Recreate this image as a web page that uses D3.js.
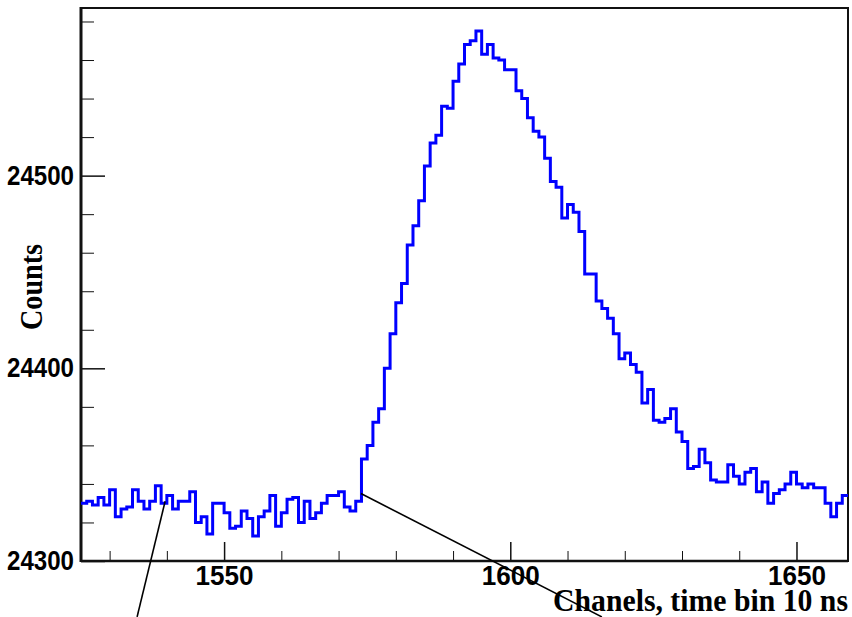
<!DOCTYPE html>
<html>
<head>
    <meta charset="UTF-8">
    <title>Counts</title>
    <style>
        body { margin: 0; background: #fff; }
        .axis text {
            font-family: 'Liberation Sans', Arial, sans-serif;
            font-weight: bold;
            fill: #000;
        }
        .axis line { stroke: #111; }
        .title {
            font-family: 'Liberation Serif', 'Times New Roman', serif;
            font-weight: bold;
            fill: #000;
        }
    </style>
</head>
<body>
    <div id="app"></div>

    <script src="https://d3js.org/d3.v7.min.js"></script>
    <script>
        // channel of the first bin, one bin per channel
        let firstChannel = 1525
        let lastChannel = 1659

        let counts = [
            24330, 24331, 24329, 24333, 24329, 24337, 24323, 24327, 24328, 24337,
            24331, 24327, 24331, 24339, 24330, 24334, 24327, 24331, 24331, 24336,
            24320, 24323, 24314, 24330, 24330, 24325, 24317, 24318, 24326, 24322,
            24313, 24323, 24326, 24334, 24318, 24325, 24332, 24333, 24320, 24331,
            24322, 24325, 24330, 24334, 24334, 24336, 24328, 24326, 24331, 24353,
            24360, 24372, 24379, 24400, 24418, 24434, 24444, 24464, 24474, 24487,
            24505, 24517, 24521, 24536, 24535, 24549, 24558, 24568, 24570, 24575,
            24563, 24568, 24561, 24560, 24555, 24555, 24544, 24540, 24530, 24523,
            24520, 24509, 24497, 24494, 24478, 24485, 24481, 24471, 24449, 24449,
            24435, 24431, 24426, 24418, 24405, 24408, 24402, 24398, 24382, 24389,
            24373, 24372, 24374, 24379, 24367, 24362, 24348, 24349, 24358, 24351,
            24342, 24341, 24341, 24350, 24344, 24340, 24346, 24348, 24336, 24341,
            24330, 24335, 24337, 24340, 24346, 24340, 24338, 24340, 24338, 24338,
            24330, 24323, 24330, 24334
        ]

        let xTicks = [1550, 1600, 1650]
        let xMinorTicks = [1530, 1540, 1560, 1570, 1580, 1590, 1610, 1620, 1630, 1640]
        let yTicks = [24300, 24400, 24500]
        let yMinorTicks = [24320, 24340, 24360, 24380, 24420, 24440, 24460, 24480, 24520, 24540, 24560, 24580]

        let xTitle = 'Chanels, time bin 10 ns'
        let yTitle = 'Counts'

        // the two pointer lines, [channel, counts] at each end
        let pointers = [
            [[1539.7, 24331], [1534.8, 24271]],
            [[1573.9, 24335], [1616.0, 24271]]
        ]

        let W = 852
        let H = 617
        let m = { left: 81, right: 848, top: 8, bottom: 561 }

        let svg = d3.select('#app').append('svg')
            .attr('width', W)
            .attr('height', H)

        let x = d3.scaleLinear().domain([firstChannel, lastChannel]).range([m.left, m.right])
        let y = d3.scaleLinear().domain([24300, 24587]).range([m.bottom, m.top])

        // minor ticks
        svg.append('g').attr('class', 'axis')
            .attr('transform', 'translate(0,' + m.bottom + ')')
            .call(d3.axisBottom(x).tickValues(xMinorTicks).tickSize(-10).tickFormat(''))
            .call(g => g.select('.domain').remove())
        svg.append('g').attr('class', 'axis')
            .attr('transform', 'translate(' + m.left + ',0)')
            .call(d3.axisLeft(y).tickValues(yMinorTicks).tickSize(-13).tickFormat(''))
            .call(g => g.select('.domain').remove())

        // major ticks with labels (the reference glyphs are tall and narrow)
        let xAxis = svg.append('g').attr('class', 'axis')
            .attr('transform', 'translate(0,' + m.bottom + ')')
            .call(d3.axisBottom(x).tickValues(xTicks).tickSize(-19).tickPadding(4).tickFormat(d3.format('d')))
            .call(g => g.select('.domain').remove())
        xAxis.selectAll('text')
            .attr('font-size', 28)
            .attr('textLength', 58)
            .attr('lengthAdjust', 'spacingAndGlyphs')
        xAxis.selectAll('line').attr('stroke-width', 1.5)

        let yAxis = svg.append('g').attr('class', 'axis')
            .attr('transform', 'translate(' + m.left + ',0)')
            .call(d3.axisLeft(y).tickValues(yTicks).tickSize(-24).tickPadding(7).tickFormat(d3.format('d')))
            .call(g => g.select('.domain').remove())
        yAxis.selectAll('text')
            .attr('font-size', 27)
            .attr('textLength', 67)
            .attr('lengthAdjust', 'spacingAndGlyphs')
        yAxis.selectAll('line').attr('stroke-width', 1.5)

        // frame
        svg.append('rect')
            .attr('x', m.left).attr('y', m.top)
            .attr('width', m.right - m.left).attr('height', m.bottom - m.top)
            .attr('fill', 'none').attr('stroke', '#111').attr('stroke-width', 2)
        svg.append('line')
            .attr('x1', m.left).attr('x2', m.left).attr('y1', m.top - 1).attr('y2', m.bottom + 1)
            .attr('stroke', '#111').attr('stroke-width', 3)
        svg.append('line')
            .attr('x1', m.left).attr('x2', m.right).attr('y1', m.bottom).attr('y2', m.bottom)
            .attr('stroke', '#111').attr('stroke-width', 2.5)

        // histogram as steps
        let steps = counts.map((c, i) => [firstChannel + i, c])
        steps.push([lastChannel, counts[counts.length - 1]])

        let line = d3.line()
            .x(d => x(d[0]))
            .y(d => y(d[1]))
            .curve(d3.curveStepAfter)

        svg.append('path')
            .datum(steps)
            .attr('d', line)
            .attr('fill', 'none')
            .attr('stroke', '#0000ff')
            .attr('stroke-width', 3)

        // pointer lines
        svg.selectAll('.pointer')
            .data(pointers).enter()
            .append('line')
            .attr('class', 'pointer')
            .attr('x1', d => x(d[0][0])).attr('y1', d => y(d[0][1]))
            .attr('x2', d => x(d[1][0])).attr('y2', d => y(d[1][1]))
            .attr('stroke', '#000')
            .attr('stroke-width', 1.6)

        // titles
        svg.append('text')
            .attr('class', 'title')
            .attr('transform', 'translate(42,287) rotate(-90)')
            .attr('text-anchor', 'middle')
            .attr('font-size', 32)
            .attr('textLength', 86)
            .attr('lengthAdjust', 'spacingAndGlyphs')
            .text(yTitle)

        svg.append('text')
            .attr('class', 'title')
            .attr('x', 848).attr('y', 611)
            .attr('text-anchor', 'end')
            .attr('font-size', 31)
            .attr('textLength', 295)
            .attr('lengthAdjust', 'spacingAndGlyphs')
            .text(xTitle)
    </script>
</body>
</html>
